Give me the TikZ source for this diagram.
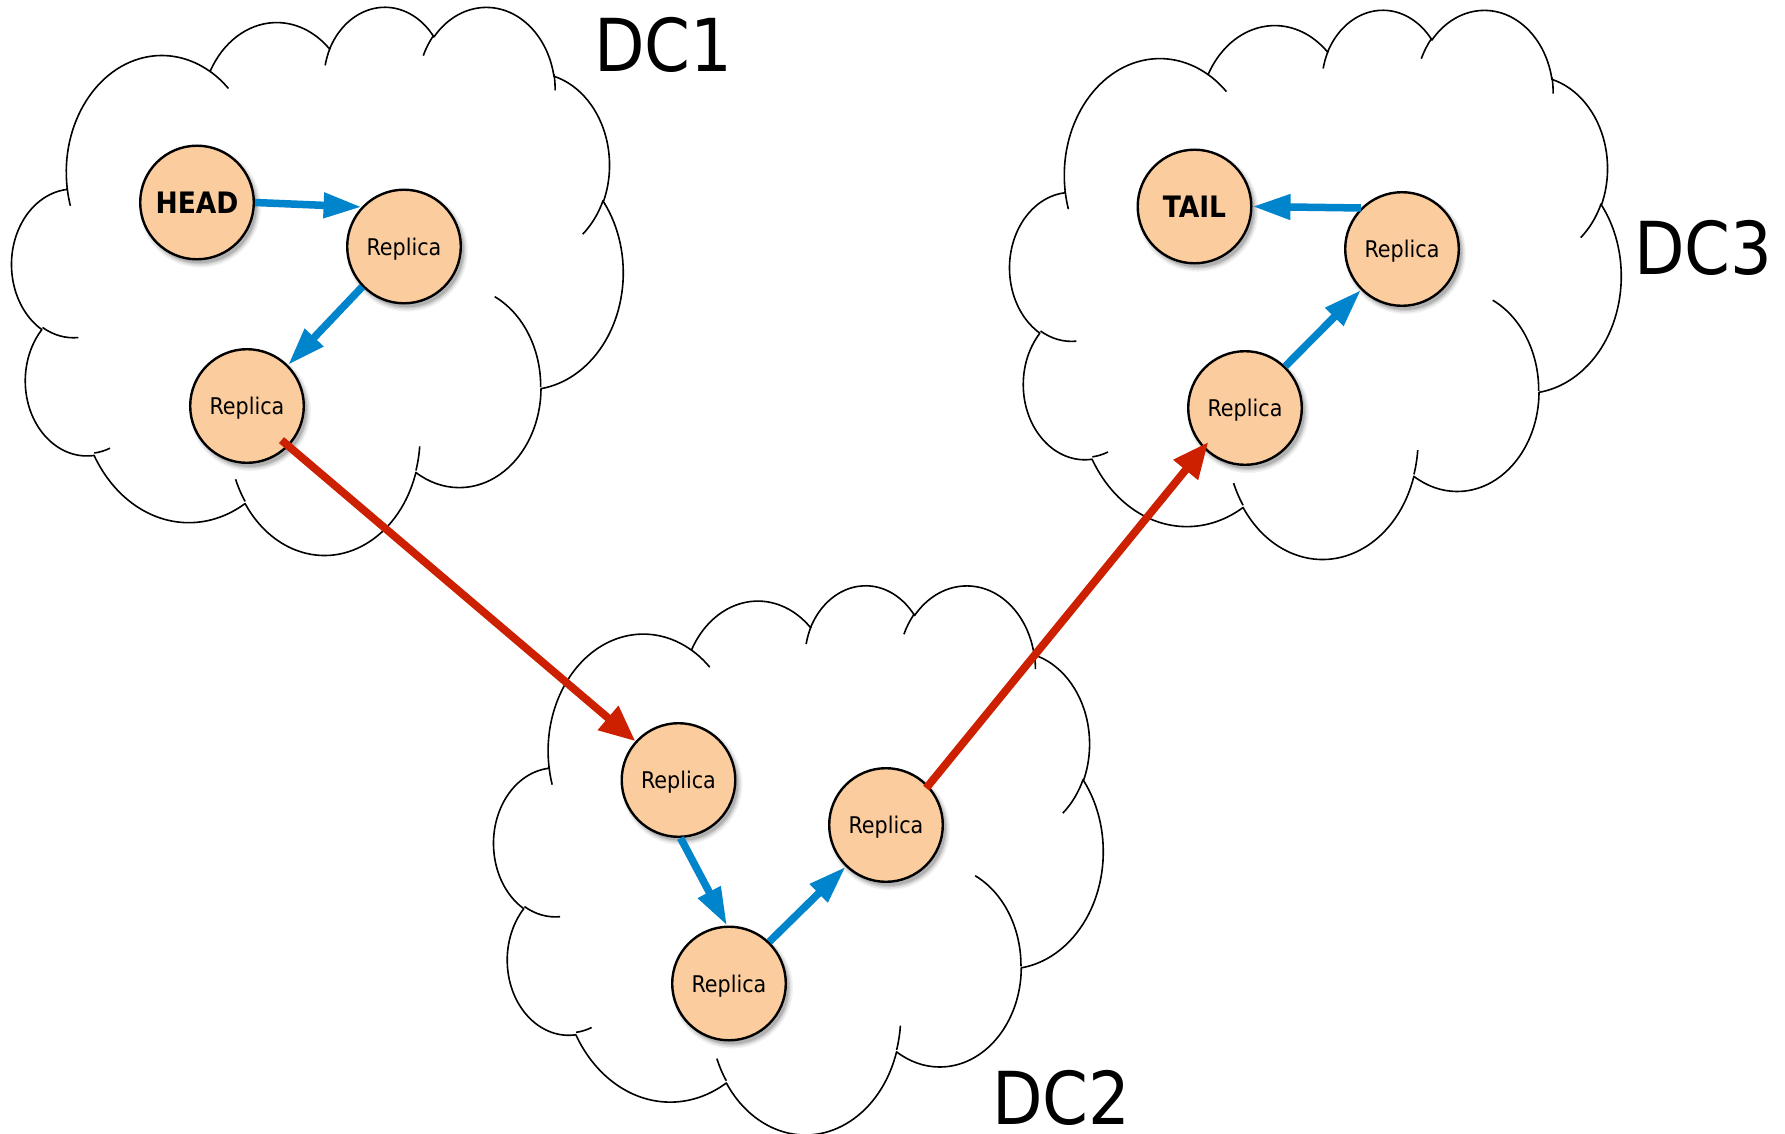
\documentclass[tikz,border=0pt]{standalone}
\usepackage{fontspec}
\setmainfont{DejaVuSansCondensed}[Extension=.ttf, BoldFont=DejaVuSansCondensed-Bold]
\usetikzlibrary{arrows.meta, shadows, calc}

\definecolor{peach}{RGB}{250,204,158}
\definecolor{blueline}{RGB}{0,132,204}
\definecolor{redline}{RGB}{204,32,0}

\tikzset{
  % elliptical arc given by radii, start angle and sweep, where the angles
  % are measured geometrically from the centre (not parametrically)
  oarc/.code n args={4}{%
    \pgfmathsetmacro\oS{atan2((#1)*sin(#3),(#2)*cos(#3))}%
    \pgfmathsetmacro\oE{atan2((#1)*sin((#3)+(#4)),(#2)*cos((#3)+(#4)))}%
    \pgfmathsetmacro\oD{\oE-\oS}%
    \pgfmathsetmacro\oD{\oD-360*round((\oD-(#4))/360)}%
    \edef\oTmp{\noexpand\pgfkeysalso{insert path={arc[x radius=#1,y radius=#2,start angle=\oS,delta angle=\oD]}}}%
    \oTmp},
  cloudline/.style={draw=black, line width=1.6pt, line join=round},
  nodeshadow/.style={
    general shadow={fill=black, opacity=0.05, shadow scale=1.07, shadow xshift=3pt, shadow yshift=-4pt},
    general shadow={fill=black, opacity=0.07, shadow scale=1.045, shadow xshift=3pt, shadow yshift=-4pt},
    general shadow={fill=black, opacity=0.09, shadow scale=1.02, shadow xshift=3pt, shadow yshift=-4pt},
    general shadow={fill=black, opacity=0.12, shadow scale=1.0, shadow xshift=3pt, shadow yshift=-4pt}},
  dcnode/.style={circle, draw=black, line width=2.4pt, fill=peach,
    minimum size=113.6pt, inner sep=0pt, text depth=0pt, nodeshadow,
    font=\fontsize{23}{27}\selectfont},
  endnode/.style={dcnode, font=\fontsize{29.5}{35}\selectfont\bfseries},
  dclabel/.style={anchor=base west, inner sep=0pt, font=\fontsize{73}{88}\selectfont},
  bluearrow/.style={draw=blueline, line width=7.5pt, -{Triangle[length=38pt,width=24pt]}},
  redarrow/.style={draw=redline, line width=7.8pt, -{Triangle[length=36pt,width=30pt]}},
}

% cloud outline in a 432 x 432 frame, placed at (#1,#2) with size #3 x #4
\newcommand\drawcloud[4]{%
  \begin{scope}[shift={(#1,#2)}, xscale=#3/432, yscale=#4/432]
    \draw[cloudline] (39.00,143.70)
      [oarc={67.53}{91.90}{-190.4875}{123.7805}]
      [oarc={53.33}{72.67}{-144.1024}{89.9452}]
      [oarc={43.65}{59.45}{-145.8079}{99.7230}]
      [oarc={48.57}{65.95}{-130.9861}{117.2417}]
      [oarc={53.33}{72.73}{-78.7089}{109.0269}]
      [oarc={67.75}{92.20}{-46.2673}{130.2690}]
      [oarc={57.85}{78.67}{0.6250}{114.0333}]
      [oarc={67.52}{92.15}{22.4516}{115.1726}]
      [oarc={77.20}{105.43}{66.2426}{75.7110}]
      [oarc={43.60}{59.18}{-274.9421}{146.7356}]
      [oarc={43.45}{59.45}{-246.8285}{152.5189}]
      -- cycle;
    \draw[cloudline]
      (46.93,261.77) [oarc={43.45}{59.45}{86.7420}{26.4295}]
      (69.28,348.99) [oarc={43.60}{59.18}{73.6105}{11.4475}]
      (164.78,390.90) [oarc={67.52}{92.15}{137.6242}{14.0811}]
      (288.27,347.51) [oarc={67.52}{92.15}{6.4533}{15.9984}]
      (341.29,229.54) [oarc={57.85}{78.67}{-70.2924}{70.9174}]
      (417.98,153.54) [oarc={53.33}{72.73}{30.3180}{27.7515}]
      (383.24,54.26) [oarc={48.57}{65.95}{-13.7443}{14.8589}]
      (290.78,39.52) [oarc={48.57}{65.95}{-149.1815}{18.1954}]
      (221.41,47.20) [oarc={43.65}{59.45}{-163.4943}{17.6864}]
      (140.00,51.92) [oarc={67.53}{91.90}{-66.7070}{12.3194}]
      (41.27,157.89) [oarc={67.53}{91.90}{157.6544}{11.8582}];
  \end{scope}}

\begin{document}
\begin{tikzpicture}[x=1pt, y=-1pt]
  \fill[white] (0,0) rectangle (1785,1134);
  \useasboundingbox (0,0) rectangle (1785,1134);

  % data centres
  \drawcloud{12}{5.5}{611}{548}
  \drawcloud{494}{584}{609}{549}
  \drawcloud{1010}{8.5}{611}{549}

  % chain members
  \node[endnode] (head) at (197,202.5) {HEAD};
  \node[dcnode]  (r1)   at (404,246.5) {Replica};
  \node[dcnode]  (r2)   at (247,406)   {Replica};
  \node[dcnode]  (a)    at (678.5,780) {Replica};
  \node[dcnode]  (b)    at (729,983.5) {Replica};
  \node[dcnode]  (c)    at (886,825)   {Replica};
  \node[dcnode]  (d3l)  at (1245,408)  {Replica};
  \node[dcnode]  (d3h)  at (1402,249)  {Replica};
  \node[endnode] (tail) at (1194.5,206.5) {TAIL};

  % replication inside a data centre
  \draw[bluearrow] (head.0) -- (r1.137);
  \draw[bluearrow] (r1.224) -- (r2.45);
  \draw[bluearrow] (a.-88) -- (b.92);
  \draw[bluearrow] (b.46) -- (c.226);
  \draw[bluearrow] (d3l.46) -- (d3h.225);
  \draw[bluearrow] (d3h.135) -- (tail.0);

  % replication between data centres
  \draw[redarrow, shorten <=-9.5pt] (r2.-44.5) -- (a.138);
  \draw[redarrow, shorten <=-3.5pt, shorten >=-8pt] (c.43) -- (d3l.224);

  % data centre names
  \node[dclabel] (dc1) at (594,71.7) {DC1};
  \node[dclabel] (dc3) at (1634,274) {DC3};
  \node[dclabel] (dc2) at (992,1124) {DC2};
\end{tikzpicture}
\end{document}
